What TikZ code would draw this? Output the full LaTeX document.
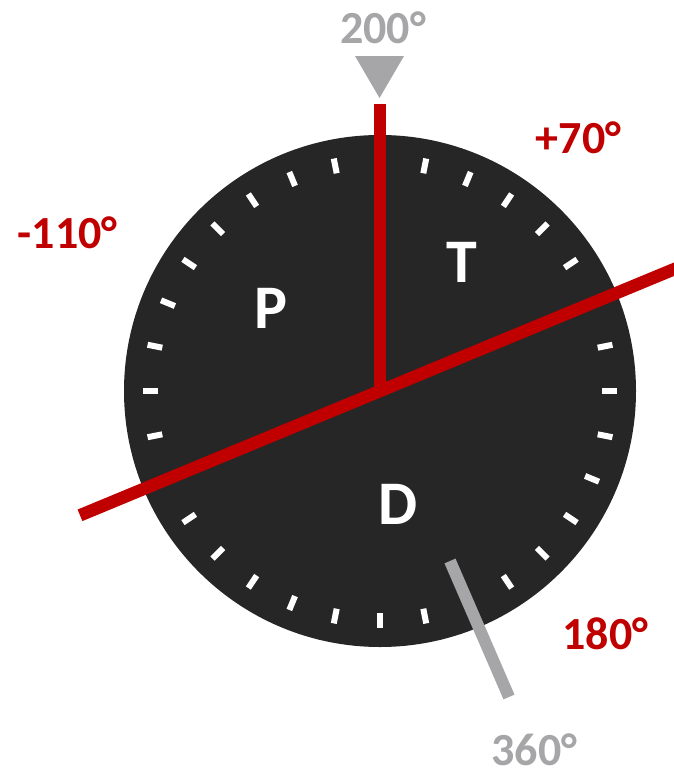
\documentclass[tikz,border=0pt]{standalone}
\usepackage{fontspec}
\setmainfont{Carlito}
\definecolor{dialbg}{RGB}{38,38,38}
\definecolor{accred}{RGB}{192,0,0}
\definecolor{accgray}{RGB}{166,166,169}
\begin{document}
\begin{tikzpicture}[x=1pt,y=-1pt,
  numlabel/.style={inner sep=0pt, anchor=base, font=\fontsize{46}{46}\selectfont\bfseries},
  letterlabel/.style={inner sep=0pt, anchor=base, text=white, font=\fontsize{62}{62}\selectfont\bfseries},
  dialtick/.style={draw=white, line width=6pt},
  redline/.style={draw=accred, line width=12.5pt},
  grayline/.style={draw=accgray, line width=12pt}]
\useasboundingbox (0,0) rectangle (674,771);
\node[circle, fill=dialbg, minimum size=512pt, inner sep=0pt] (dial) at (380,391) {};
\begin{scope}[shift={(dial.center)}]
  \foreach \a in {0,11.25,...,359}
    \draw[dialtick] (\a:222) -- (\a:237);
\end{scope}
% gray pointer
\coordinate (g1) at (450,561);
\coordinate (g2) at (509,697);
\draw[grayline] (g1) -- (g2);
% red lines
\coordinate (vtop) at (380,104);
\coordinate (dl) at (80,515.3);
\coordinate (dr) at (690,262.6);
\draw[redline] (dial.center) -- (vtop);
\draw[redline] (dl) -- (dr);
% gray marker triangle
\fill[accgray] (355,56) -- (404,56) -- (379.5,98) -- cycle;
% labels
\node[numlabel, text=accgray] (l200) at (383,43) {200°};
\node[numlabel, text=accred] (l110) at (67.5,248) {-110°};
\node[numlabel, text=accred] (l70) at (578.5,153) {+70°};
\node[numlabel, text=accred] (l180) at (605.5,649) {180°};
\node[numlabel, text=accgray] (l360) at (534.5,765) {360°};
\node[letterlabel] (P) at (271,328) {P};
\node[letterlabel] (T) at (462,282) {T};
\node[letterlabel] (D) at (398.5,524) {D};
\end{tikzpicture}
\end{document}
